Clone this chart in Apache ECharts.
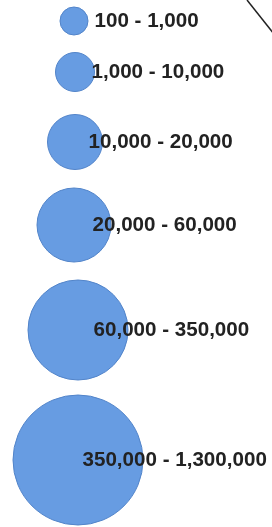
<!DOCTYPE html>
<html>
<head>
<meta charset="utf-8">
<script src="https://cdn.jsdelivr.net/npm/echarts@6/dist/echarts.min.js"></script>
<style>
  html, body { margin: 0; padding: 0; background: #fff; }
  #chart { width: 272px; height: 527px; }
</style>
</head>
<body>
<div id="chart"></div>
<script>
// size classes of the bubble legend
const classLabels = ['100 - 1,000', '1,000 - 10,000', '10,000 - 20,000', '20,000 - 60,000', '60,000 - 350,000', '350,000 - 1,300,000']
const bubbleSizes = [28, 39, 55, 74, 100, 130]
// where each row sits on the hidden axes
const rowX = [74, 75, 75, 74, 78, 78]
const rowY = [21, 72, 142, 225, 330, 460]
const labelX = [95, 92, 89, 93, 94, 83]

const chart = echarts.init(document.getElementById('chart'), null, { renderer: 'canvas' })

const data = classLabels.map((name, i) => ({
  name: name,
  value: [rowX[i], rowY[i]],
  symbolSize: bubbleSizes[i],
  label: {
    // label starts at a fixed column, measured from the left edge of the bubble
    position: [labelX[i] - (rowX[i] - bubbleSizes[i] / 2), '50%']
  }
}))

chart.setOption({
  animation: false,
  grid: { left: 0, right: 0, top: 0, bottom: 0 },
  xAxis: { type: 'value', min: 0, max: 272, show: false },
  yAxis: { type: 'value', min: 0, max: 527, inverse: true, show: false },
  series: [{
    type: 'scatter',
    symbol: 'circle',
    data: data,
    itemStyle: {
      color: '#679ce2',
      borderColor: '#5284c9',
      borderWidth: 1,
      opacity: 1
    },
    label: {
      show: true,
      formatter: '{b}',
      align: 'left',
      verticalAlign: 'middle',
      color: '#222',
      fontFamily: 'Liberation Sans, Arial, sans-serif',
      fontWeight: 'bold',
      fontSize: 20.6
    }
  }],
  graphic: [{
    type: 'line',
    shape: { x1: 247, y1: 0, x2: 274, y2: 34 },
    style: { stroke: '#222', lineWidth: 1.5 }
  }]
})
</script>
</body>
</html>
